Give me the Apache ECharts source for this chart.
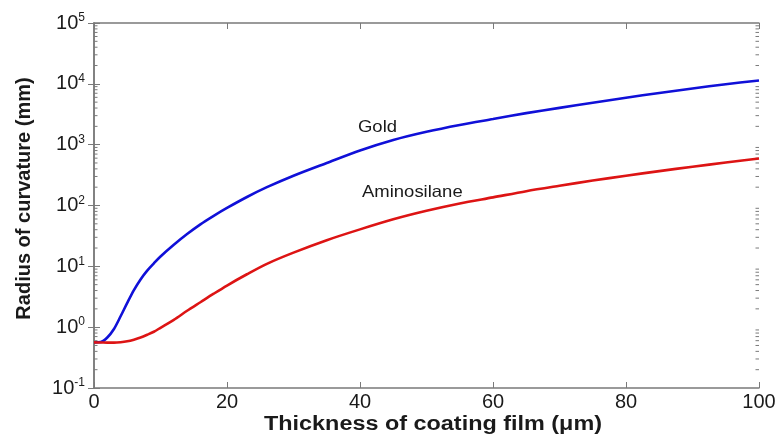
<!DOCTYPE html>
<html>
<head>
<meta charset="utf-8">
<script src="https://cdn.jsdelivr.net/npm/echarts@6/dist/echarts.min.js"></script>
<style>
  html, body { margin: 0; padding: 0; background: #ffffff; }
  #chart { width: 777px; height: 435px; }
</style>
</head>
<body>
<div id="chart"></div>
<script>
// Thickness of coating film (µm)
const thickness = [0, 1, 2, 3, 4, 5, 6, 7, 8, 9, 10, 12, 14, 16, 18, 20, 23, 26, 30, 35, 40, 45, 50, 55, 60, 65, 70, 75, 80, 85, 90, 95, 100];
// Radius of curvature (mm)
const gold = [0.562, 0.569, 0.676, 0.933, 1.51, 2.51, 4.07, 6.10, 8.51, 11.2, 14.5, 22.6, 33.9, 49.0, 67.6, 91.2, 138, 200, 309, 501, 804, 1197, 1633, 2113, 2642, 3296, 4027, 4898, 5916, 7079, 8395, 9863, 11324];
const aminosilane = [0.562, 0.560, 0.556, 0.556, 0.565, 0.586, 0.624, 0.676, 0.750, 0.841, 0.977, 1.32, 1.86, 2.57, 3.55, 4.84, 7.41, 11.0, 16.8, 26.9, 40.5, 59.3, 81.8, 108, 136, 172, 211, 257, 309, 367, 434, 508, 593];
const xTicks = [0, 20, 40, 60, 80, 100];
const decades = [-1, 0, 1, 2, 3, 4];
const minorMultipliers = [2, 3, 4, 5, 6, 7, 8, 9];
const seriesNames = ['Gold', 'Aminosilane'];

const minorTickData = [];
decades.forEach(d => minorMultipliers.forEach(m => minorTickData.push([0, m * Math.pow(10, d)])));

const FONT = '"Liberation Sans", Arial, sans-serif';
const AX = '#7a7a7a';
const TXT = '#1a1a1a';

const chart = echarts.init(document.getElementById('chart'), null, { renderer: 'canvas' });

function yLabel(v) {
  const e = Math.round(Math.log10(v));
  return '{a|10}{b|' + e + '}';
}

chart.setOption({
  backgroundColor: '#ffffff',
  animation: false,
  grid: { left: 94, right: 18, top: 23, bottom: 47, containLabel: false, outerBoundsMode: 'none' },
  xAxis: [{
    type: 'value', min: xTicks[0], max: xTicks[xTicks.length - 1], interval: 20,
    position: 'bottom',
    axisLine: { show: true, lineStyle: { color: AX, width: 1.5 } },
    axisTick: { show: true, inside: true, length: 6, lineStyle: { color: AX, width: 1 } },
    axisLabel: { fontFamily: FONT, fontSize: 20, color: TXT, margin: 4 },
    splitLine: { show: false }
  }, {
    type: 'value', min: xTicks[0], max: xTicks[xTicks.length - 1], interval: 20,
    position: 'top',
    axisLine: { show: true, lineStyle: { color: AX, width: 1.5 } },
    axisTick: { show: true, inside: true, length: 6, lineStyle: { color: AX, width: 1 } },
    axisLabel: { show: false },
    splitLine: { show: false }
  }],
  yAxis: [{
    type: 'log', logBase: 10, min: 0.1, max: 100000,
    position: 'left',
    name: 'Radius of curvature (mm)',
    nameLocation: 'middle', nameGap: 60,
    nameTextStyle: { fontFamily: FONT, fontSize: 20, fontWeight: 'bold', color: TXT, padding: [0, 0, 0, 14] },
    axisLine: { show: true, lineStyle: { color: AX, width: 1.5 } },
    axisTick: { show: true, inside: true, length: 6, lineStyle: { color: AX, width: 1 } },
    minorTick: { show: false },
    axisLabel: {
      margin: 9,
      formatter: yLabel,
      rich: {
        a: { fontFamily: FONT, fontSize: 20, color: TXT, lineHeight: 22 },
        b: { fontFamily: FONT, fontSize: 12, color: TXT, verticalAlign: 'top', lineHeight: 22, padding: [0, 0, 12, 0] }
      }
    },
    splitLine: { show: false }
  }, {
    type: 'log', logBase: 10, min: 0.1, max: 100000,
    position: 'right',
    axisLine: { show: true, lineStyle: { color: AX, width: 1.5 } },
    axisTick: { show: true, inside: true, length: 6, lineStyle: { color: AX, width: 1 } },
    axisLabel: { show: false },
    splitLine: { show: false }
  }],
  series: [{
    name: seriesNames[0], type: 'line', xAxisIndex: 0, yAxisIndex: 0,
    data: thickness.map((x, i) => [x, gold[i]]),
    smooth: 0.3, symbol: 'none',
    lineStyle: { color: '#1010d8', width: 2.6 }
  }, {
    name: seriesNames[1], type: 'line', xAxisIndex: 0, yAxisIndex: 0,
    data: thickness.map((x, i) => [x, aminosilane[i]]),
    smooth: 0.3, symbol: 'none',
    lineStyle: { color: '#dd1414', width: 2.6 }
  }, {
    type: 'custom', xAxisIndex: 0, yAxisIndex: 0, silent: true,
    data: minorTickData,
    renderItem: function (params, api) {
      const v = api.value(1);
      const pL = api.coord([0, v]);
      const pR = api.coord([100, v]);
      const st = { stroke: AX, lineWidth: 1 };
      return {
        type: 'group',
        children: [
          { type: 'line', shape: { x1: pL[0], y1: pL[1], x2: pL[0] + 3.5, y2: pL[1] }, style: st },
          { type: 'line', shape: { x1: pR[0], y1: pR[1], x2: pR[0] - 3.5, y2: pR[1] }, style: st }
        ]
      };
    }
  }],
  graphic: [
    { type: 'text', x: 433, y: 424, scaleX: 1.17, style: { text: 'Thickness of coating film (μm)', fontFamily: FONT, fontSize: 20, fontWeight: 'bold', fill: TXT, align: 'center', verticalAlign: 'middle' } },
    { type: 'text', x: 358, y: 127, scaleX: 1.12, style: { text: seriesNames[0], fontFamily: FONT, fontSize: 16.5, fill: TXT, align: 'left', verticalAlign: 'middle' } },
    { type: 'text', x: 362, y: 192, scaleX: 1.12, style: { text: seriesNames[1], fontFamily: FONT, fontSize: 16.5, fill: TXT, align: 'left', verticalAlign: 'middle' } }
  ]
});
</script>
</body>
</html>
